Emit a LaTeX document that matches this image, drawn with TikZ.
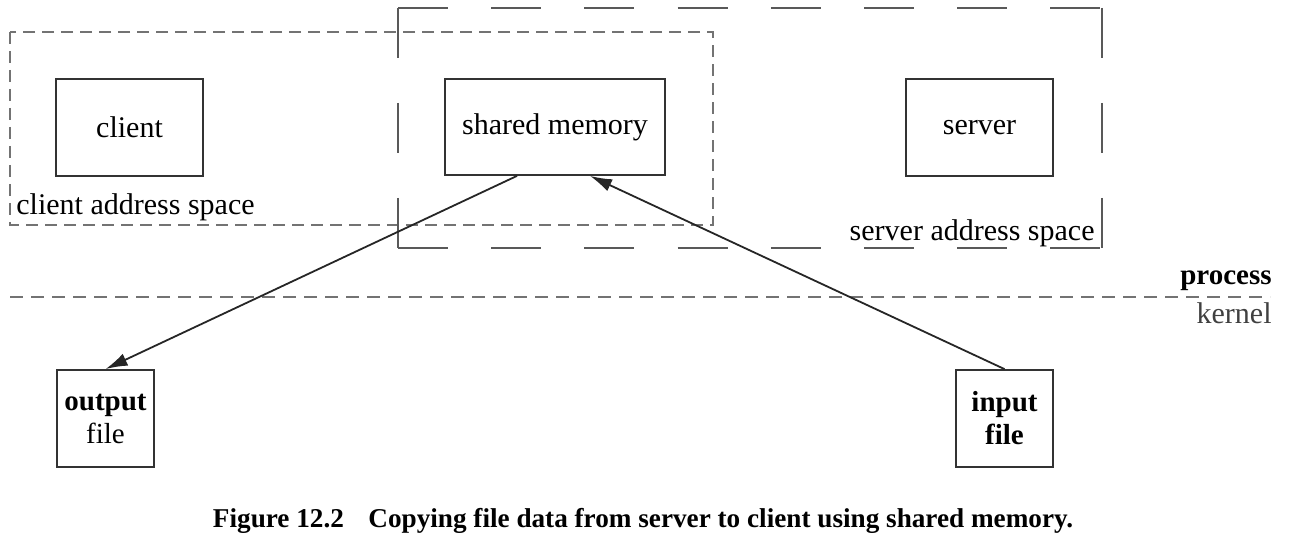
\documentclass[tikz,border=0pt]{standalone}
\usepackage{fontspec}
\setmainfont{Liberation Serif}
\usetikzlibrary{arrows.meta}
\begin{document}
\begin{tikzpicture}[x=0.5pt,y=-0.5pt,
  box/.style={draw=black!80,line width=0.9pt,inner sep=0pt,font=\fontsize{15}{17}\selectfont},
  smallbox/.style={box,minimum width=48.5pt,minimum height=48.5pt,align=center,font=\fontsize{14.5}{16.5}\selectfont},
  clientspace/.style={draw=black!55,line width=0.9pt,dash pattern=on 6pt off 3.5pt},
  serverh/.style={draw=black!65,line width=0.9pt,dash pattern=on 25pt off 21.6pt},
  serverv/.style={draw=black!65,line width=0.9pt,dash pattern=on 25pt off 22.5pt},
  boundary/.style={draw=black!55,line width=0.9pt,dash pattern=on 6.5pt off 4pt},
  lbl/.style={inner sep=0pt,font=\fontsize{15}{17}\selectfont},
  flow/.style={draw=black!85,line width=0.9pt,-{Latex[length=11pt,width=6.5pt]}}]
\useasboundingbox (0,0) rectangle (1290,549);
% address spaces
\draw[clientspace] (10,32) rectangle (713,225);
\coordinate (s1) at (398,8);
\coordinate (s2) at (1102,8);
\coordinate (s3) at (1102,248);
\coordinate (s4) at (398,248);
\draw[serverh] (s1) -- (s2);
\draw[serverh] (s4) -- (s3);
\draw[serverv] (s1) -- (s4);
\draw[serverv] (s2) -- (s3);
% process/kernel boundary
\draw[boundary] (10,297) -- (1270,297);
% boxes
\node[box,minimum width=73.5pt,minimum height=48.5pt] (client) at (129.5,127.5) {client};
\node[box,minimum width=110pt,minimum height=48pt] (sm) at (555,127) {shared memory};
\node[box,minimum width=73.5pt,minimum height=48.5pt] (server) at (979.5,127.5) {server};
\node[smallbox] (out) at (105.5,418.5) {\textbf{output}\\file};
\node[smallbox] (in) at (1004.5,418.5) {\textbf{input}\\\textbf{file}};
% labels
\node[lbl,anchor=west] (cas) at (16,207) {client address space};
\node[lbl,anchor=east] (sas) at (1095,233) {server address space};
\node[lbl,anchor=east,font=\fontsize{14.5}{16.5}\selectfont\bfseries] (proc) at (1272,281) {process};
\node[lbl,anchor=east,text=black!75] (kern) at (1272,313) {kernel};
% connectors
\draw[flow] ([xshift=-19pt]sm.south) -- (out.north);
\draw[flow] (in.north) -- ([xshift=17.5pt]sm.south);
% caption
\node[inner sep=0pt,font=\fontsize{13.6}{15}\selectfont\bfseries] (cap) at (643,521) {Figure 12.2\hspace{0.9em}Copying file data from server to client using shared memory.};
\end{tikzpicture}
\end{document}
